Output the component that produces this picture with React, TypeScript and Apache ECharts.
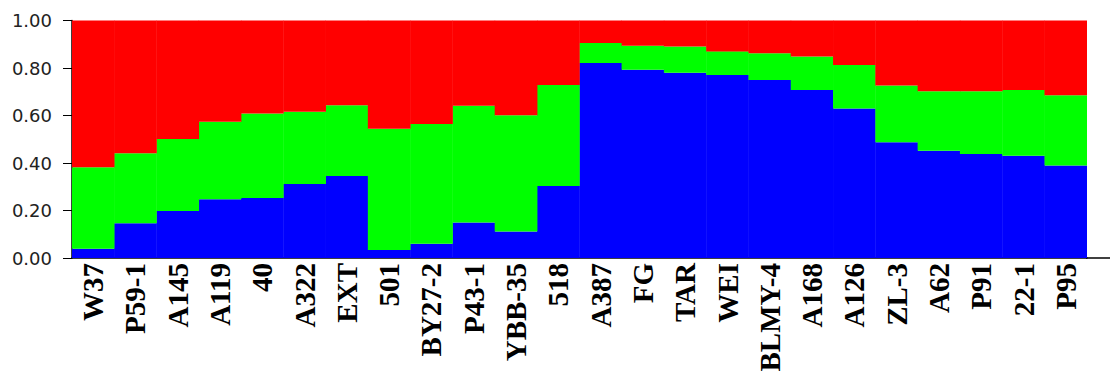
import React, { useEffect, useRef } from "react";
import * as echarts from "echarts";

const categories = [
  "W37", "P59-1", "A145", "A119", "40", "A322", "EXT", "501", "BY27-2", "P43-1", "YBB-35", "518",
  "A387", "FG", "TAR", "WEI", "BLMY-4", "A168", "A126", "ZL-3", "A62", "P91", "22-1", "P95",
];
const cluster1 = [
  0.039, 0.146, 0.198, 0.247, 0.253, 0.312, 0.345, 0.034, 0.06, 0.15, 0.112, 0.303,
  0.821, 0.793, 0.78, 0.771, 0.749, 0.707, 0.63, 0.487, 0.452, 0.438, 0.431, 0.389,
];
const cluster2 = [
  0.343, 0.295, 0.303, 0.327, 0.355, 0.304, 0.298, 0.51, 0.504, 0.491, 0.489, 0.425,
  0.084, 0.101, 0.111, 0.099, 0.113, 0.141, 0.183, 0.239, 0.25, 0.264, 0.276, 0.296,
];
const cluster3 = [
  0.618, 0.559, 0.499, 0.426, 0.392, 0.384, 0.357, 0.456, 0.436, 0.359, 0.399, 0.272,
  0.095, 0.106, 0.109, 0.13, 0.138, 0.152, 0.187, 0.274, 0.298, 0.298, 0.293, 0.315,
];
const yTicks = [0, 0.2, 0.4, 0.6, 0.8, 1.0];

export default function App() {
  const ref = useRef<HTMLDivElement>(null);
  useEffect(() => {
    if (!ref.current) return;
    const chart = echarts.init(ref.current, null, { renderer: "svg" });
    const mk = (name: string, data: number[], color: string) => ({
      name,
      type: "bar",
      stack: "q",
      data,
      barCategoryGap: "0%",
      barWidth: "101%",
      itemStyle: { color, borderColor: color, borderWidth: 0 },
      emphasis: { disabled: true },
    });
    chart.setOption({
      animation: false,
      grid: { left: 72, top: 20.5, right: 23, bottom: 121, outerBoundsMode: "none" },
      xAxis: {
        type: "category",
        data: categories,
        axisLine: { show: true, lineStyle: { color: "#000", width: 1.5 } },
        axisTick: { show: false },
        axisLabel: {
          interval: 0,
          rotate: 90,
          margin: 5,
          fontFamily: "Liberation Serif",
          fontWeight: "bold",
          fontSize: 29,
          color: "#000",
        },
      },
      yAxis: {
        type: "value",
        min: yTicks[0],
        max: yTicks[yTicks.length - 1],
        interval: 0.2,
        splitLine: { show: false },
        axisLine: { show: true, lineStyle: { color: "#000", width: 1.5 } },
        axisTick: { show: true, length: 9, lineStyle: { color: "#000" } },
        axisLabel: {
          margin: 20,
          fontFamily: "DejaVu Sans",
          fontSize: 18,
          color: "#222",
          formatter: (v: number) => v.toFixed(2),
        },
      },
      graphic: [
        {
          type: "line",
          shape: { x1: 1086, y1: 258, x2: 1110, y2: 258 },
          style: { stroke: "#000", lineWidth: 1.5 },
        },
      ],
      series: [
        mk("Cluster 1", cluster1, "#0000ff"),
        mk("Cluster 2", cluster2, "#00ff00"),
        mk("Cluster 3", cluster3, "#ff0000"),
      ],
    });
    return () => chart.dispose();
  }, []);
  return (
    <div
      ref={ref}
      style={{ position: "absolute", left: 0, top: 0, width: 1110, height: 379 }}
    />
  );
}
